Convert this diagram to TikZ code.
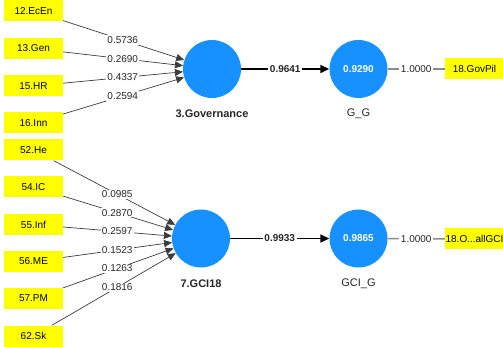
\documentclass[tikz,border=0pt]{standalone}
\usepackage{fontspec}
\setmainfont{Liberation Sans}
\usetikzlibrary{arrows.meta,calc}
\definecolor{lvblue}{RGB}{22,145,255}
\definecolor{indyel}{RGB}{255,255,0}
\definecolor{edgegray}{RGB}{60,60,60}
\definecolor{loadgray}{RGB}{140,140,140}
\tikzset{
  ind/.style={fill=indyel, minimum width=59pt, minimum height=21pt, inner sep=0pt, font=\fontsize{10}{12}\selectfont},
  lv/.style={circle, fill=lvblue, minimum size=58pt, inner sep=0pt, text=white, font=\bfseries\fontsize{10}{12}\selectfont},
  lvname/.style={font=\bfseries\fontsize{11}{13}\selectfont, text=black!85},
  lvnamer/.style={font=\fontsize{11}{13}\selectfont, text=black!85},
  wlab/.style={fill=white, inner sep=1pt, font=\fontsize{10}{12}\selectfont, text=black!85},
  blab/.style={fill=white, inner sep=1.5pt, font=\bfseries\fontsize{10}{12}\selectfont, text=black!85},
  inarrow/.style={draw=edgegray, line width=0.7pt, -{Triangle[length=8pt,width=7pt]}},
  patharrow/.style={draw=black, line width=1.6pt, -{Triangle[length=9pt,width=8pt]}},
  loadline/.style={draw=loadgray, line width=1.5pt}
}
\begin{document}
\begin{tikzpicture}[x=1pt,y=-1pt]
\useasboundingbox (0,0) rectangle (503,347);
\clip (0,0) rectangle (503,347);
% latent variables
\node[lv] (gov) at (212,69) {};
\node[lvname] (govn) at (212,114) {3.Governance};
\node[lv] (gg) at (358.5,69) {0.9290};
\node[lvnamer] (ggn) at (358.5,114) {G\_G};
\node[lv] (gci) at (201,238.5) {};
\node[lvname] (gcin) at (201,284) {7.GCI18};
\node[lv] (gcig) at (358.5,238.5) {0.9865};
\node[lvnamer] (gcign) at (358.5,284) {GCI\_G};
% indicators top
\node[ind] (ecen) at (33.5,11) {12.EcEn};
\node[ind] (gen) at (33.5,48.5) {13.Gen};
\node[ind] (hr) at (33.5,86) {15.HR};
\node[ind] (inn) at (33.5,123) {16.Inn};
% indicators bottom
\node[ind] (he) at (33.5,150) {52.He};
\node[ind] (ic) at (33.5,187) {54.IC};
\node[ind] (inf) at (33.5,224.5) {55.Inf};
\node[ind] (me) at (33.5,261.5) {56.ME};
\node[ind] (pm) at (33.5,298.5) {57.PM};
\node[ind] (sk) at (33.5,336) {62.Sk};
% right indicators
\node[ind] (govpil) at (474.5,69) {18.GovPil};
\node[ind] (allgci) at (474.5,239) {18.O...allGCI};
% formative arrows top
\foreach \a/\w in {ecen/0.5736, gen/0.2690, hr/0.4337, inn/0.2594}{
  \draw[inarrow] (\a) -- (gov);
  \node[wlab] (l\a) at ($(\a)!0.5!(gov)$) {\w};
}
% formative arrows bottom
\foreach \a/\w in {he/0.0985, ic/0.2870, inf/0.2597, me/0.1523, pm/0.1263, sk/0.1816}{
  \draw[inarrow] (\a) -- (gci);
  \node[wlab] (l\a) at ($(\a)!0.5!(gci)$) {\w};
}
% structural paths
\draw[patharrow] (gov) -- (gg) node[blab, pos=0.5] (p1) {0.9641};
\draw[patharrow] (gci) -- (gcig) node[blab, pos=0.5] (p2) {0.9933};
% loadings
\draw[loadline] (gg) -- (govpil) node[wlab, inner sep=1.5pt, pos=0.5] (ld1) {1.0000};
\draw[loadline] (gcig) -- (allgci) node[wlab, inner sep=1.5pt, pos=0.5] (ld2) {1.0000};
\end{tikzpicture}
\end{document}
